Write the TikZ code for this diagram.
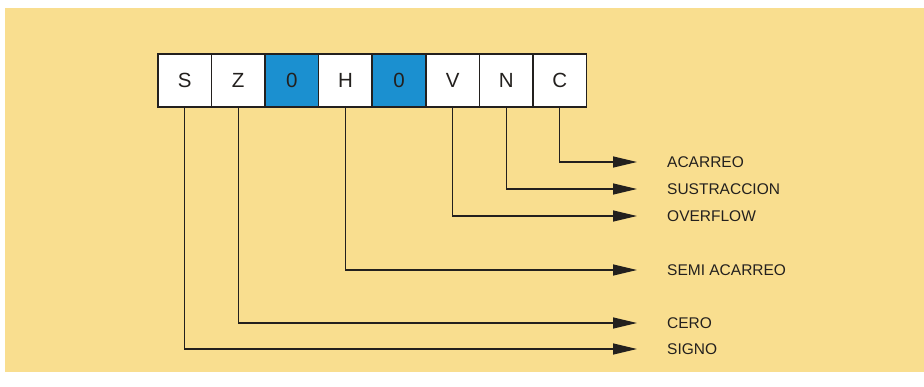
\documentclass[tikz,border=0pt]{standalone}
\usepackage{fontspec}
\setmainfont{Liberation Sans}
\usetikzlibrary{arrows.meta}
\definecolor{bgyellow}{RGB}{249,222,143}
\definecolor{flagblue}{RGB}{27,144,208}
\definecolor{ink}{RGB}{35,32,30}
\begin{document}
\begin{tikzpicture}[x=1pt,y=-1pt,
  cell/.style={draw=ink,line width=1.6pt,fill=white,minimum width=53.6pt,minimum height=53pt,inner sep=0pt,anchor=north west,font=\fontsize{20.5}{20.5}\selectfont,text=ink},
  bluecell/.style={cell,fill=flagblue},
  lbl/.style={anchor=west,inner sep=0pt,font=\fontsize{15.5}{15.5}\selectfont,text=ink},
  conn/.style={draw=ink,line width=1.3pt,-{Triangle[length=24pt,width=11pt]}}]
\useasboundingbox (0,0) rectangle (924,386);
\fill[white] (0,0) rectangle (924,386);
\fill[bgyellow] (5,8) rectangle (924,372);
% register cells
\node[cell] (s) at (157,53) {S};
\node[cell] (z) at (210.6,53) {Z};
\node[bluecell] (b1) at (264.2,53) {0};
\node[cell] (h) at (317.8,53) {H};
\node[bluecell] (b2) at (371.4,53) {0};
\node[cell] (v) at (425,53) {V};
\node[cell] (n) at (478.6,53) {N};
\node[cell] (c) at (532.2,53) {C};
% labels
\node[lbl] (lc) at (667,162) {ACARREO};
\node[lbl] (ln) at (667,189) {SUSTRACCION};
\node[lbl] (lv) at (667,216) {OVERFLOW};
\node[lbl] (lh) at (667,270) {SEMI ACARREO};
\node[lbl] (lz) at (667,323) {CERO};
\node[lbl] (ls) at (667,349) {SIGNO};
% arrow end points
\coordinate (ec) at (637,162);
\coordinate (en) at (637,189);
\coordinate (ev) at (637,216);
\coordinate (eh) at (637,270);
\coordinate (ez) at (637,323);
\coordinate (es) at (637,349);
% connectors
\draw[conn] (c.south) |- (ec);
\draw[conn] (n.south) |- (en);
\draw[conn] (v.south) |- (ev);
\draw[conn] (h.south) |- (eh);
\draw[conn] (z.south) |- (ez);
\draw[conn] (s.south) |- (es);
\end{tikzpicture}
\end{document}
